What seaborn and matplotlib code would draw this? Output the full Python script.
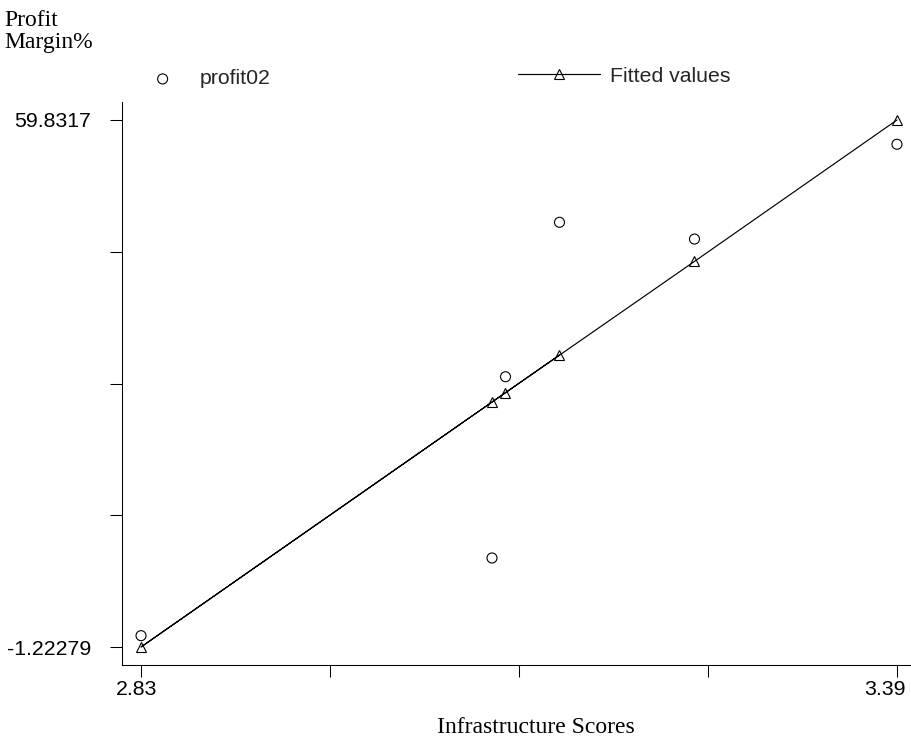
import matplotlib
matplotlib.use("Agg")
import matplotlib.pyplot as plt
import matplotlib.transforms as mtransforms
import seaborn as sns
import pandas as pd

# ---- data ----
infra_scores = [3.14, 2.83, 3.09, 3.10, 3.24, 3.39]
profit02 = [47.98, 0.09, 9.09, 30.09, 46.04, 57.02]
fitted_values = [32.61, -1.22279, 27.16, 28.24, 43.45, 59.8317]

x_ticks = [2.83, 2.97, 3.11, 3.25, 3.39]
x_tick_labels = ["2.83", "", "", "", "3.39"]
y_ticks = [-1.22279, 14.04083, 29.30446, 44.56808, 59.8317]
y_tick_labels = ["-1.22279", "", "", "", "59.8317"]

x_label = "Infrastructure Scores"
y_label = "Profit\nMargin%"
series_labels = ["profit02", "Fitted values"]

df = pd.DataFrame({"infra": infra_scores, "profit02": profit02, "fitted": fitted_values})

sns.set_theme(style="ticks")
plt.rcParams["font.family"] = ["Liberation Sans", "DejaVu Sans"]
SANS = 15.3
SERIF = 17

W, H = 911, 739
fig = plt.figure(figsize=(W / 100, H / 100), dpi=100)
fig.patch.set_facecolor("white")
ax = fig.add_axes([122 / W, 1 - 665 / H, 789 / W, 563 / H])
ax.set_facecolor("white")

sns.lineplot(data=df, x="infra", y="fitted", sort=False, estimator=None,
             color="black", lw=0.85, marker="^", markersize=7.3,
             markerfacecolor="none", markeredgecolor="black", markeredgewidth=0.8,
             label=series_labels[1], ax=ax, clip_on=False)
sns.scatterplot(data=df, x="infra", y="profit02", marker="o", s=52,
                linewidth=0.8, label=series_labels[0], ax=ax, clip_on=False)
pts = ax.collections[-1]
pts.set_facecolor("none")
pts.set_edgecolor("black")

if ax.get_legend() is not None:
    ax.get_legend().remove()

ax.set_xlim(2.8159, 3.4004)
ax.set_ylim(-3.308, 61.917)
ax.set_xticks(x_ticks)
ax.set_xticklabels(x_tick_labels)
ax.set_yticks(y_ticks)
ax.set_yticklabels(y_tick_labels)
ax.tick_params(axis="both", length=8.6, width=0.75, color="black",
               labelsize=SANS, labelcolor="black", direction="out")
ax.tick_params(axis="y", pad=13.7)
ax.tick_params(axis="x", pad=2)

# shift the end x tick labels slightly left, as in the reference
xlabels = ax.get_xticklabels()
xlabels[0].set_transform(xlabels[0].get_transform() +
                         mtransforms.ScaledTranslation(-4 / 100, 0, fig.dpi_scale_trans))
xlabels[-1].set_transform(xlabels[-1].get_transform() +
                          mtransforms.ScaledTranslation(-12 / 100, 0, fig.dpi_scale_trans))

sns.despine(ax=ax)
for s in ["left", "bottom"]:
    ax.spines[s].set_linewidth(0.75)
    ax.spines[s].set_color("black")

ax.set_ylabel("")
ax.set_xlabel(x_label, fontfamily="Liberation Serif", fontsize=SERIF, color="black")
ax.xaxis.set_label_coords(536 / W, 1 - 733 / H, transform=fig.transFigure)
ax.xaxis.label.set_verticalalignment("baseline")
ax.xaxis.label.set_horizontalalignment("center")

fig.text(4 / W, 1 - 48.3 / H, y_label, fontfamily="Liberation Serif",
         fontsize=SERIF, va="baseline", ha="left", linespacing=1.08, color="black")

handles, labels = ax.get_legend_handles_labels()
hmap = dict(zip(labels, handles))
leg1 = fig.legend([hmap[series_labels[0]]], [series_labels[0]], loc="center left",
                  bbox_to_anchor=(152 / W, 1 - 79 / H), frameon=False, borderpad=0,
                  borderaxespad=0, handlelength=1.0, handletextpad=1.25,
                  scatterpoints=1, prop={"size": SANS})
leg2 = fig.legend([hmap[series_labels[1]]], [series_labels[1]], loc="center left",
                  bbox_to_anchor=(518 / W, 1 - 76 / H), frameon=False, borderpad=0,
                  borderaxespad=0, handlelength=3.87, handletextpad=0.47,
                  numpoints=1, prop={"size": SANS})

fig.savefig("out.png", dpi=100, facecolor="white")
